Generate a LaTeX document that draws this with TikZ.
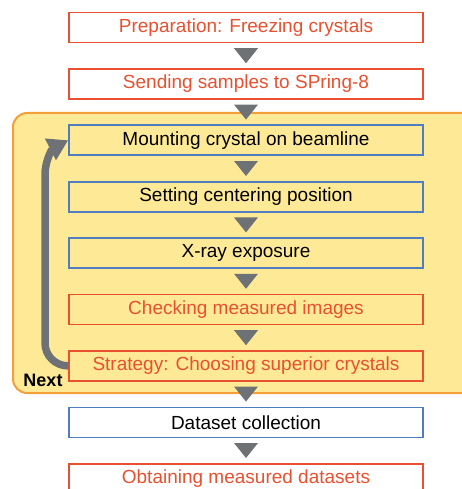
\documentclass[tikz,border=0pt]{standalone}
\usepackage{fontspec}
\setmainfont{Liberation Sans}
\usetikzlibrary{positioning,calc,arrows.meta}
\definecolor{redline}{HTML}{E8502F}
\definecolor{blueline}{HTML}{4F7DBF}
\definecolor{arrgray}{HTML}{6F7275}
\definecolor{loopfill}{HTML}{FEEA96}
\definecolor{loopline}{HTML}{F4A03A}

\begin{document}
\begin{tikzpicture}[on grid,node distance=56.4pt,
  box/.style={draw,line width=1.6pt,minimum width=354pt,minimum height=30pt,inner sep=0pt,font=\fontsize{19}{22}\selectfont},
  redbox/.style={box,draw=redline,text=redline},
  bluebox/.style={box,draw=blueline,text=black},
  tri/.style={fill=arrgray}]

\useasboundingbox (0,0) rectangle (461pt,-489pt);

% loop panel
\filldraw[fill=loopfill,draw=loopline,line width=2pt,rounded corners=14pt] (13pt,-113pt) rectangle (480pt,-393pt);

  \node[redbox]  (prep)      at (246pt,-27.5pt) {Preparation: Freezing crystals};
  \node[redbox]  (send)      [below=of prep]      {Sending samples to SPring-8};
  \node[bluebox] (mount)     [below=of send]      {Mounting crystal on beamline};
  \node[bluebox] (centering) [below=of mount]     {Setting centering position};
  \node[bluebox] (xray)      [below=of centering] {X-ray exposure};
  \node[redbox]  (check)     [below=of xray]      {Checking measured images};
  \node[redbox]  (strat)     [below=of check]     {Strategy: Choosing superior crystals};
  \node[bluebox] (dataset)   [below=of strat]     {Dataset collection};
  \node[redbox]  (obtain)    [below=of dataset]   {Obtaining measured datasets};

% step triangles
\foreach \a/\b in {prep/send,send/mount,mount/centering,centering/xray,xray/check,check/strat,strat/dataset,dataset/obtain}
  \fill[tri] ($(\a.south)!.5!(\b.north)$) +(-12pt,7.5pt) -- +(12pt,7.5pt) -- +(0pt,-7.5pt) -- cycle;

% back to mounting
\draw[arrgray,line width=7.5pt,-{Triangle[length=20pt,width=23pt]}]
  (strat.west) to[out=180,in=-90] (45pt,-343pt) -- (45pt,-175pt) to[out=90,in=207] (mount.west);
\node[font=\fontsize{18}{20}\selectfont\bfseries] (next) at (43pt,-380pt) {Next};
\end{tikzpicture}
\end{document}
